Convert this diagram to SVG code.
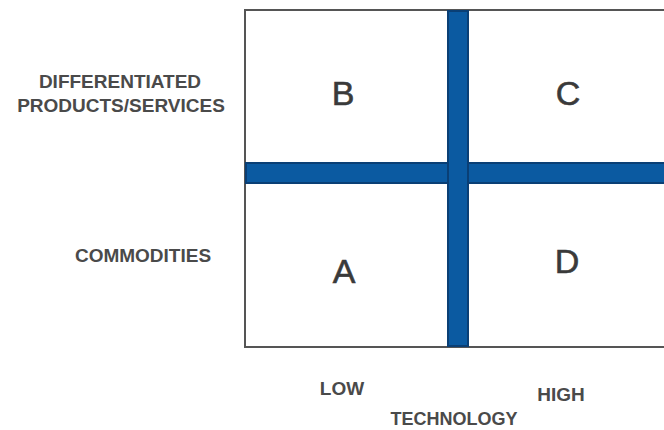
<svg xmlns="http://www.w3.org/2000/svg" width="664" height="430" viewBox="0 0 664 430">
<style>
.lbl{font-family:"Liberation Sans",Arial,sans-serif;font-weight:bold;font-size:19px;fill:#4a4a4a;text-anchor:middle}
.q{font-family:"Liberation Sans",Arial,sans-serif;font-size:34px;fill:#3a3a3a;text-anchor:middle;stroke:#3a3a3a;stroke-width:0.6}
.bar{fill:#0b5aa1;stroke:#0a3f75;stroke-width:2}
</style>
<rect width="664" height="430" fill="#ffffff"/>
<g id="frame">
<rect x="245" y="10" width="440" height="337" fill="#ffffff" stroke="#555555" stroke-width="2"/>
</g>
<g id="connectors">
<rect class="bar" x="246" y="163" width="430" height="20"/>
<rect class="bar" x="448" y="11" width="20" height="335"/>
</g>
<g id="quadB"><text class="q" x="343" y="105">B</text></g>
<g id="quadC"><text class="q" x="568" y="105">C</text></g>
<g id="quadA"><text class="q" x="344" y="283">A</text></g>
<g id="quadD"><text class="q" x="567" y="273">D</text></g>
<g id="labels">
<text class="lbl" x="120" y="88">DIFFERENTIATED</text>
<text class="lbl" x="121" y="112">PRODUCTS/SERVICES</text>
<text class="lbl" x="143" y="262">COMMODITIES</text>
<text class="lbl" x="342" y="395">LOW</text>
<text class="lbl" x="561" y="401">HIGH</text>
<text class="lbl" x="454" y="425" style="font-size:18px">TECHNOLOGY</text>
</g>
</svg>
